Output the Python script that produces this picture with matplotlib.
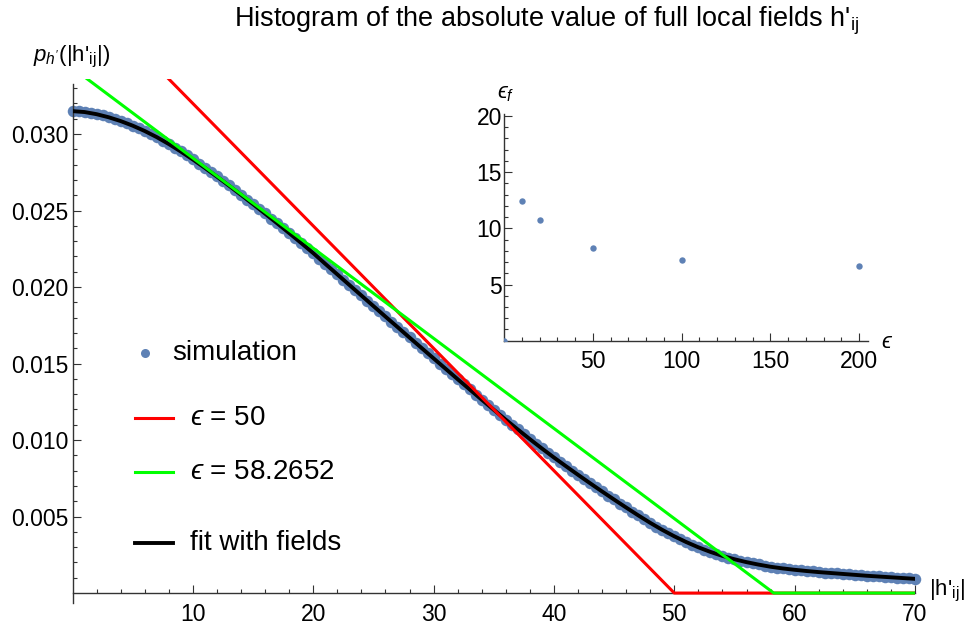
import matplotlib
matplotlib.use("Agg")
import matplotlib.pyplot as plt
from matplotlib.lines import Line2D
import numpy as np

plt.rcParams['font.family'] = ['Liberation Sans', 'DejaVu Sans']
plt.rcParams['mathtext.fontset'] = 'custom'
plt.rcParams['mathtext.rm'] = 'Liberation Sans'
plt.rcParams['mathtext.it'] = 'Liberation Sans:italic'
plt.rcParams['mathtext.fallback'] = 'stixsans'

# ---------------- data ----------------
sim_x = [i * 0.5 for i in range(141)]
sim_y = [
    0.03152, 0.03150, 0.03146, 0.03139, 0.03131, 0.03122, 0.03111, 0.03099, 0.03086, 0.03071,
    0.03056, 0.03039, 0.03021, 0.03000, 0.02981, 0.02958, 0.02936, 0.02911, 0.02887, 0.02861,
    0.02835, 0.02806, 0.02780, 0.02750, 0.02723, 0.02692, 0.02664, 0.02633, 0.02604, 0.02572,
    0.02543, 0.02511, 0.02481, 0.02448, 0.02418, 0.02385, 0.02354, 0.02320, 0.02289, 0.02255,
    0.02224, 0.02186, 0.02153, 0.02118, 0.02084, 0.02048, 0.02015, 0.01979, 0.01946, 0.01910,
    0.01877, 0.01841, 0.01808, 0.01772, 0.01740, 0.01704, 0.01671, 0.01636, 0.01603, 0.01568,
    0.01535, 0.01500, 0.01467, 0.01432, 0.01399, 0.01364, 0.01332, 0.01297, 0.01265, 0.01230,
    0.01199, 0.01165, 0.01134, 0.01100, 0.01070, 0.01037, 0.01007, 0.00975, 0.00946, 0.00915,
    0.00887, 0.00857, 0.00830, 0.00800, 0.00774, 0.00745, 0.00719, 0.00690, 0.00665, 0.00637,
    0.00612, 0.00585, 0.00560, 0.00533, 0.00509, 0.00483, 0.00460, 0.00435, 0.00414, 0.00391,
    0.00372, 0.00351, 0.00334, 0.00315, 0.00300, 0.00284, 0.00270, 0.00256, 0.00244, 0.00232,
    0.00222, 0.00211, 0.00203, 0.00194, 0.00187, 0.00179, 0.00173, 0.00166, 0.00161, 0.00156,
    0.00152, 0.00148, 0.00144, 0.00141, 0.00137, 0.00134, 0.00131, 0.00128, 0.00125, 0.00122,
    0.00119, 0.00116, 0.00114, 0.00111, 0.00109, 0.00106, 0.00104, 0.00101, 0.00099, 0.00096,
    0.00094,
]

fit_x = list(range(71))
fit_y = [
    0.03150, 0.03144, 0.03130, 0.03110, 0.03085, 0.03055, 0.03020, 0.02980, 0.02935, 0.02886,
    0.02834, 0.02779, 0.02722, 0.02663, 0.02603, 0.02542, 0.02480, 0.02417, 0.02353, 0.02288,
    0.02222, 0.02152, 0.02083, 0.02014, 0.01945, 0.01876, 0.01807, 0.01739, 0.01670, 0.01602,
    0.01534, 0.01466, 0.01398, 0.01331, 0.01264, 0.01198, 0.01133, 0.01069, 0.01006, 0.00945,
    0.00886, 0.00829, 0.00773, 0.00718, 0.00664, 0.00611, 0.00559, 0.00508, 0.00459, 0.00413,
    0.00371, 0.00333, 0.00299, 0.00269, 0.00243, 0.00221, 0.00202, 0.00186, 0.00172, 0.00161,
    0.00152, 0.00144, 0.00137, 0.00131, 0.00125, 0.00119, 0.00113, 0.00108, 0.00103, 0.00098,
    0.00093,
]

eps50_x = [0, 50, 70]
eps50_y = [0.04, 0.0, 0.0]
eps58_x = [0, 58.2652, 70]
eps58_y = [0.034326, 0.0, 0.0]

inset_x = [0, 10, 20, 50, 100, 200]
inset_y = [0.0, 12.43, 10.71, 8.25, 7.15, 6.65]

x_major = [10, 20, 30, 40, 50, 60, 70]
x_labels = ["10", "20", "30", "40", "50", "60", "70"]
y_major = [0.005, 0.010, 0.015, 0.020, 0.025, 0.030]
y_labels = ["0.005", "0.010", "0.015", "0.020", "0.025", "0.030"]
in_x_major = [50, 100, 150, 200]
in_x_labels = ["50", "100", "150", "200"]
in_y_major = [5, 10, 15, 20]
in_y_labels = ["5", "10", "15", "20"]

EPS = "\u03f5"
legend_labels = ["simulation", "$" + EPS + "$ = 50", "$" + EPS + "$ = 58.2652", "fit with fields"]

BLUE = '#5E81B5'
RED = '#FF0000'
GREEN = '#00FF00'
AX = '#333333'

W, H = 969, 626
fig = plt.figure(figsize=(W / 100, H / 100), dpi=100)

def fx(px):
    return px / W

def fy(py):
    return 1 - py / H

# ---------------- main axes ----------------
ax = fig.add_axes([fx(72.5), fy(603), fx(915) - fx(72.5), fy(79) - fy(603)])
ax.set_xlim(0, 70)
ax.set_ylim(-0.00065, 0.0336)
ax.patch.set_alpha(0)

ax.plot(sim_x, sim_y, 'o', ms=8.3, color=BLUE, mec='none', clip_on=False, zorder=2)
ax.plot(fit_x, fit_y, color='black', lw=2.8, zorder=3)
ax.plot(eps50_x, eps50_y, color=RED, lw=2.2, zorder=4, clip_on=True)
ax.plot(eps58_x, eps58_y, color=GREEN, lw=2.2, zorder=4, clip_on=True)

for s in ['top', 'right']:
    ax.spines[s].set_visible(False)
ax.spines['bottom'].set_position(('data', 0))
for s in ['left', 'bottom']:
    ax.spines[s].set_color(AX)
    ax.spines[s].set_linewidth(1.0)
ax.spines['left'].set_bounds(-0.00065, 0.0333)

ax.set_xticks(x_major)
ax.set_xticklabels(x_labels)
ax.set_xticks([v for v in np.arange(2, 70, 2) if v % 10 != 0], minor=True)
ax.set_yticks(y_major)
ax.set_yticklabels(y_labels)
ax.set_yticks([v for v in np.arange(0.001, 0.0335, 0.001) if abs(v / 0.005 - round(v / 0.005)) > 1e-6], minor=True)
ax.tick_params(which='major', direction='in', length=5.5, width=0.8, color=AX, labelsize=16.5)
ax.tick_params(which='minor', direction='in', length=3.0, width=0.8, color=AX)
ax.tick_params(axis='x', which='major', pad=7)
ax.tick_params(axis='y', which='major', pad=3)

# ---------------- inset ----------------
ax2 = fig.add_axes([fx(504), fy(340.7), fx(868) - fx(504), fy(113.7) - fy(340.7)])
ax2.set_xlim(0, 205)
ax2.set_ylim(0, 20.2)
ax2.patch.set_alpha(0)
ax2.plot(inset_x, inset_y, 'o', ms=4.6, color=BLUE, mec='none', zorder=3)
for s in ['top', 'right']:
    ax2.spines[s].set_visible(False)
for s in ['left', 'bottom']:
    ax2.spines[s].set_color(AX)
    ax2.spines[s].set_linewidth(1.0)
ax2.set_xticks(in_x_major)
ax2.set_xticklabels(in_x_labels)
ax2.set_xticks([v for v in range(10, 205, 10) if v % 50 != 0], minor=True)
ax2.set_yticks(in_y_major)
ax2.set_yticklabels(in_y_labels)
ax2.set_yticks([v for v in range(1, 20) if v % 5 != 0], minor=True)
ax2.tick_params(which='major', direction='in', length=5.5, width=0.8, color=AX, labelsize=16.5)
ax2.tick_params(which='minor', direction='in', length=3.0, width=0.8, color=AX)
ax2.tick_params(axis='x', which='major', pad=7)
ax2.tick_params(axis='y', which='major', pad=1.5)

# ---------------- texts ----------------
fig.text(fx(547), fy(21), r"Histogram of the absolute value of full local fields h'$_{\mathrm{ij}}$",
         ha='center', va='center', fontsize=19.5)
fig.text(fx(33), fy(57), r"$p_{h'}$(|h'$_{\mathrm{ij}}$|)", ha='left', va='center', fontsize=16)
fig.text(fx(929), fy(591), r"|h'$_{\mathrm{ij}}$|", ha='left', va='center', fontsize=16)
fig.text(fx(497), fy(94), "$" + EPS + "_f$", ha='left', va='center', fontsize=16)
fig.text(fx(881), fy(342), "$" + EPS + "$", ha='left', va='center', fontsize=16)

# ---------------- legend ----------------
fig.add_artist(Line2D([fx(145)], [fy(353)], marker='o', ms=6.5, color=BLUE, mec='none', ls='none'))
fig.text(fx(172), fy(353), legend_labels[0], ha='left', va='center', fontsize=20)
leg_rows = [(RED, 2.2, 418, legend_labels[1]), (GREEN, 2.2, 472, legend_labels[2]), ('black', 2.8, 543, legend_labels[3])]
for col, lw, py, lab in leg_rows:
    fig.add_artist(Line2D([fx(135), fx(173)], [fy(py), fy(py)], color=col, lw=lw))
    fig.text(fx(190), fy(py), lab, ha='left', va='center', fontsize=20)

fig.savefig("out.png", dpi=100)
